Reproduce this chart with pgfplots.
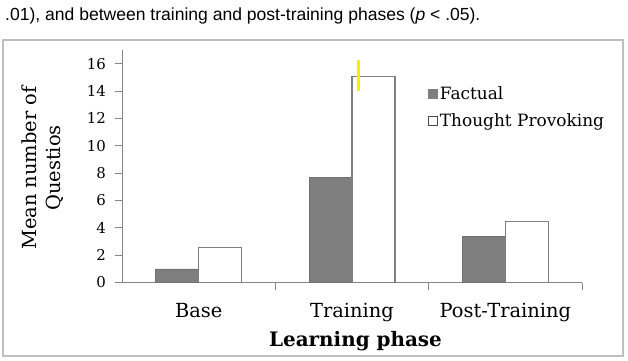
\documentclass[border=0pt]{standalone}
\usepackage{fontspec}
\setmainfont{DejaVu Serif}
\newfontfamily\arialf{Liberation Sans}
\usepackage{pgfplots}
\pgfplotsset{compat=1.18}
\definecolor{barg}{HTML}{7F7F7F}
\definecolor{bare}{HTML}{707070}
\definecolor{axg}{HTML}{868686}
\definecolor{frameg}{HTML}{BFBFBF}
\definecolor{yel}{HTML}{F2F200}
\begin{document}
\begin{tikzpicture}
\useasboundingbox (0,0) rectangle (628bp,361bp);
\draw[frameg, line width=1.3bp] (3bp,5bp) rectangle (623bp,321bp);
\node[anchor=base west, inner sep=0, font=\arialf\fontsize{17.6}{20}\selectfont] at (5bp,340bp)
  {.01), and between training and post-training phases (\textit{p} < .05).};
\begin{axis}[
  at={(122bp,78.5bp)}, anchor=south west,
  scale only axis, width=460bp, height=232.5bp,
  xmin=-0.5, xmax=2.5, ymin=0, ymax=17,
  axis x line=bottom, axis y line=left,
  axis line style={axg, line width=0.9bp, -},
  every tick/.style={axg, line width=0.9bp},
  tick align=outside, major tick length=7bp,
  xtick={0.5,1.5,2.5}, xticklabels={},
  extra x ticks={0,1,2},
  extra x tick labels={Base,Training,Post-Training},
  extra x tick style={major tick length=0pt},
  ytick={0,2,...,16},
  /pgf/number format/assume math mode=true,
  yticklabel style={font=\fontsize{15}{18}\selectfont, anchor=east, inner sep=0pt, xshift=-9bp},
  xticklabel style={font=\fontsize{19.5}{23}\selectfont, anchor=base, inner sep=0pt, yshift=-34.5bp},
  ylabel={Mean number of\\Questios},
  ylabel style={font=\fontsize{19.5}{24}\selectfont, align=center, at={(axis description cs:-0.1726,0.4925)}, anchor=center},
  xlabel={\textbf{Learning phase}},
  xlabel style={font=\fontsize{20}{24}\selectfont, at={(axis description cs:0.5076,-0.2774)}, anchor=base, inner sep=0pt},
  legend style={at={(rel axis cs:0.665,0.85)}, anchor=north west, draw=none, fill=none,
    font=\fontsize{17}{20}\selectfont, row sep=8bp, inner sep=0pt},
  legend cell align=left,
  clip=false,
]
\addplot[ybar, bar width=43bp, bar shift=-21.5bp, fill=barg, draw=bare, line width=0.8bp,
  legend image code/.code={\draw[fill=barg, draw=barg] (0bp,-4.5bp) rectangle (9bp,4.5bp);}]
  coordinates {(0,0.99) (1,7.67) (2,3.34)};
\addlegendentry{Factual}
\addplot[ybar, bar width=43bp, bar shift=21.5bp, fill=white, draw=barg, line width=1.2bp,
  legend image code/.code={\draw[fill=white, draw=black!70, line width=0.7bp] (0bp,-4.5bp) rectangle (9bp,4.5bp);}]
  coordinates {(0,2.53) (1,15.08) (2,4.44)};
\addlegendentry{Thought Provoking}
\addplot[yel, line width=3bp, forget plot] coordinates {(1.042,14.0) (1.042,16.3)};
\end{axis}
\end{tikzpicture}
\end{document}
